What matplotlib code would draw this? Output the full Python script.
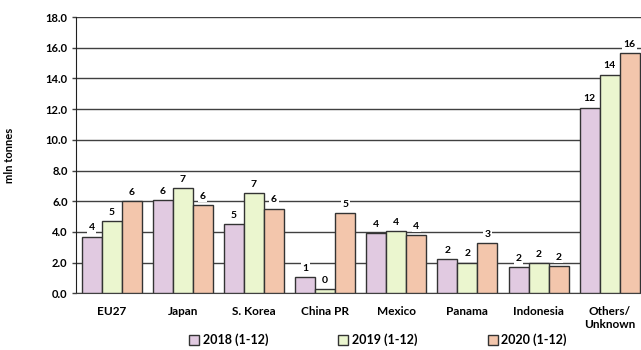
import matplotlib
matplotlib.use('Agg')
import matplotlib.pyplot as plt
import numpy as np

categories = ['EU27', 'Japan', 'S. Korea', 'China PR', 'Mexico', 'Panama', 'Indonesia', 'Others/\nUnknown']
series_names = ['2018 (1-12)', '2019 (1-12)', '2020 (1-12)']
values_2018 = [3.7, 6.05, 4.52, 1.05, 3.93, 2.22, 1.7, 12.1]
values_2019 = [4.7, 6.85, 6.55, 0.3, 4.08, 2.0, 1.96, 14.25]
values_2020 = [6.0, 5.75, 5.52, 5.2, 3.8, 3.25, 1.78, 15.65]
yticks = [0, 2, 4, 6, 8, 10, 12, 14, 16, 18]

colors = ['#E1CAE1', '#EBF6CF', '#F3C6AC']

plt.rcParams['font.family'] = ['Lato', 'DejaVu Sans']
plt.rcParams['font.weight'] = 'bold'

fig = plt.figure(figsize=(6.41, 3.5), dpi=100)
ax = fig.add_axes([76 / 641, 1 - 293.3 / 350, 1 - 76 / 641, (293.3 - 17) / 350])

x = np.arange(len(categories))
width = 0.281
all_series = [values_2018, values_2019, values_2020]

for i, (vals, name, col) in enumerate(zip(all_series, series_names, colors)):
    pos = x + (i - 1) * width
    bars = ax.bar(pos, vals, width, color=col, edgecolor='#333333', linewidth=1,
                  label=name, zorder=3)
    for b, v in zip(bars, vals):
        ax.annotate('%d' % int(v + 0.5), (b.get_x() + b.get_width() / 2, v),
                    xytext=(0, 3), textcoords='offset points',
                    ha='center', va='bottom', fontsize=7.5, fontweight='bold',
                    bbox=dict(boxstyle='square,pad=0.15', fc='white', ec='none'),
                    zorder=4)

ax.set_xlim(-0.502, 7.44)
ax.set_ylim(0, 18)
ax.set_yticks(yticks)
ax.set_yticklabels(['%.1f' % t for t in yticks], fontsize=8, fontweight='bold')
ax.set_xticks(x)
ax.set_xticklabels(categories, fontsize=8.5, fontweight='bold')
ax.tick_params(axis='x', length=0, pad=9)
ax.tick_params(axis='y', length=3, width=1, color='#404040', pad=3)
ax.yaxis.grid(True, color='#404040', linewidth=1, zorder=0)
ax.set_axisbelow(True)
for s in ['top', 'right']:
    ax.spines[s].set_visible(False)
ax.spines['left'].set_color('#202020')
ax.spines['bottom'].set_color('#404040')

fig.text(10 / 641, 1 - 155 / 350, 'mln tonnes', rotation=90, ha='center', va='center',
         fontsize=8, fontweight='bold')

fig.legend(loc='center', bbox_to_anchor=(378 / 641, 1 - 340 / 350), ncol=3, frameon=False,
           handlelength=0.8, handleheight=0.8, handletextpad=0.3,
           columnspacing=5.6, prop={'weight': 'bold', 'size': 9})

fig.savefig('out.png', dpi=100)
